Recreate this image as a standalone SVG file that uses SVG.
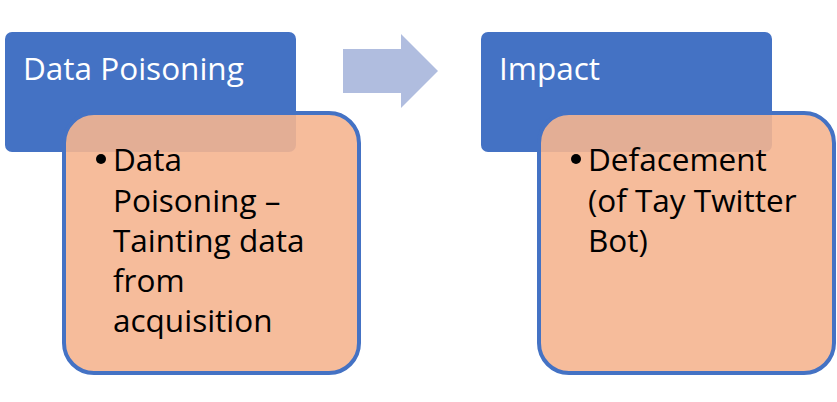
<svg xmlns="http://www.w3.org/2000/svg" width="837" height="402" viewBox="0 0 837 402">
  <style>
    .head { fill: #4472C4; }
    .body { fill: #F5B590; fill-opacity: 0.9; stroke: #4472C4; stroke-width: 4; }
    .htxt { font-family: "Open Sans", "Liberation Sans", Arial, sans-serif; font-size: 31.5px; fill: #FFFFFF; }
    .btxt { font-family: "Open Sans", "Liberation Sans", Arial, sans-serif; font-size: 31.5px; fill: #000000; }
    .arrow { fill: #B0BDDF; }
  </style>
  <rect width="837" height="402" fill="#FFFFFF"/>
  <g id="node-data-poisoning">
    <rect class="head" x="5" y="32" width="291" height="120" rx="7"/>
    <text class="htxt" x="23" y="80">Data Poisoning</text>
  </g>
  <g id="node-data-poisoning-detail">
    <rect class="body" x="64" y="113" width="295" height="260" rx="30"/>
    <circle cx="101" cy="159" r="5"/>
    <text class="btxt" x="113" y="171">Data</text>
    <text class="btxt" x="113" y="212">Poisoning –</text>
    <text class="btxt" x="113" y="252">Tainting data</text>
    <text class="btxt" x="113" y="292">from</text>
    <text class="btxt" x="113" y="332">acquisition</text>
  </g>
  <g id="connectors">
    <polygon class="arrow" points="343,49 401,49 401,34 438,71 401,108 401,93 343,93"/>
  </g>
  <g id="node-impact">
    <rect class="head" x="481" y="32" width="291" height="120" rx="7"/>
    <text class="htxt" x="499" y="80">Impact</text>
  </g>
  <g id="node-impact-detail">
    <rect class="body" x="539" y="113" width="295" height="260" rx="30"/>
    <circle cx="576" cy="159" r="5"/>
    <text class="btxt" x="588" y="171">Defacement</text>
    <text class="btxt" x="588" y="212">(of Tay Twitter</text>
    <text class="btxt" x="588" y="252">Bot)</text>
  </g>
</svg>
